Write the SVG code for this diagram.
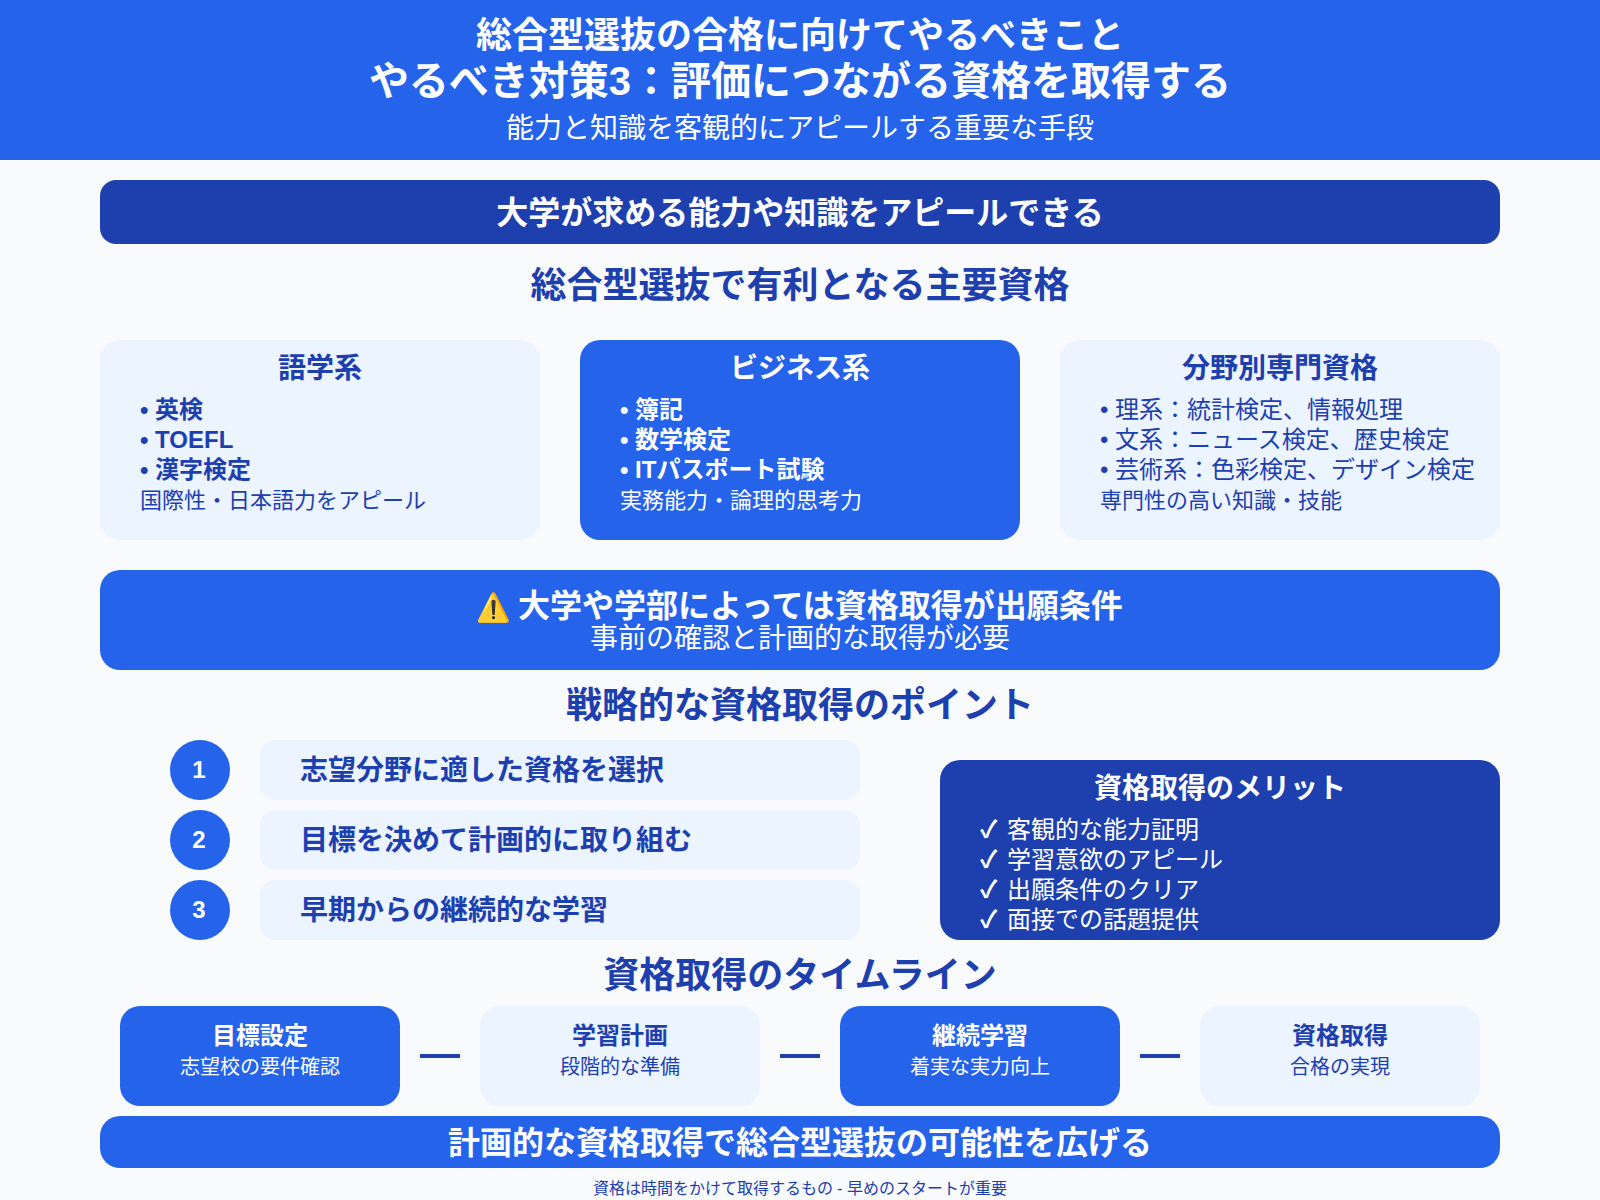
<svg xmlns="http://www.w3.org/2000/svg" width="1600" height="1200" viewBox="0 0 1600 1200">
<style>
text{font-family:"Liberation Sans","Noto Sans CJK JP",sans-serif}
.b{font-weight:700}
.c{text-anchor:middle}
.w{fill:#fff}
.d{fill:#1e40af}
.blue{fill:#2563eb}
.navy{fill:#1e40af}
.pale{fill:#ebf4ff}
.s40{font-size:40px}
.s36{font-size:36px}
.s32{font-size:32px}
.s28{font-size:28px}
.s24{font-size:24px}
.s22{font-size:22px}
.s20{font-size:20px}
</style>
<rect width="1600" height="1200" fill="#f8fafc"/>
<g id="header">
<rect width="1600" height="160" class="blue"/>
<text x="800" y="48" class="b c w s36">総合型選抜の合格に向けてやるべきこと</text>
<text x="800" y="95" class="b c w s40">やるべき対策3：評価につながる資格を取得する</text>
<text x="800" y="138" class="c w s28">能力と知識を客観的にアピールする重要な手段</text>
</g>
<g id="banner">
<rect x="100" y="180" width="1400" height="64" rx="16" class="navy"/>
<text x="800" y="224" class="b c w s32">大学が求める能力や知識をアピールできる</text>
</g>
<text id="heading-qualifications" x="800" y="298" class="b c d s36">総合型選抜で有利となる主要資格</text>
<g id="card-language">
<rect x="100" y="340" width="440" height="200" rx="20" class="pale"/>
<text x="320" y="378" class="b c d s28">語学系</text>
<text x="140" y="418" class="b d s24">• 英検</text>
<text x="140" y="448" class="b d s24">• TOEFL</text>
<text x="140" y="478" class="b d s24">• 漢字検定</text>
<text x="140" y="508" class="d s22">国際性・日本語力をアピール</text>
</g>
<g id="card-business">
<rect x="580" y="340" width="440" height="200" rx="20" class="blue"/>
<text x="800" y="378" class="b c w s28">ビジネス系</text>
<text x="620" y="418" class="b w s24">• 簿記</text>
<text x="620" y="448" class="b w s24">• 数学検定</text>
<text x="620" y="478" class="b w s24">• ITパスポート試験</text>
<text x="620" y="508" class="w s22">実務能力・論理的思考力</text>
</g>
<g id="card-specialist">
<rect x="1060" y="340" width="440" height="200" rx="20" class="pale"/>
<text x="1280" y="378" class="b c d s28">分野別専門資格</text>
<text x="1100" y="418" class="d s24">• 理系：統計検定、情報処理</text>
<text x="1100" y="448" class="d s24">• 文系：ニュース検定、歴史検定</text>
<text x="1100" y="478" class="d s24">• 芸術系：色彩検定、デザイン検定</text>
<text x="1100" y="508" class="d s22">専門性の高い知識・技能</text>
</g>
<g id="warning">
<rect x="100" y="570" width="1400" height="100" rx="20" class="blue"/>
<text x="476" y="617" class="b w s32"><tspan font-size="28">⚠️</tspan><tspan x="518">大学や学部によっては資格取得が出願条件</tspan></text>
<text x="800" y="648" class="c w s28">事前の確認と計画的な取得が必要</text>
</g>
<text id="heading-points" x="800" y="718" class="b c d s36">戦略的な資格取得のポイント</text>
<g id="point-1">
<circle cx="200" cy="770" r="30" class="blue"/>
<text x="199" y="778" class="b c w s24">1</text>
<rect x="260" y="740" width="600" height="60" rx="16" class="pale"/>
<text x="300" y="780" class="b d s28">志望分野に適した資格を選択</text>
</g>
<g id="point-2">
<circle cx="200" cy="840" r="30" class="blue"/>
<text x="199" y="848" class="b c w s24">2</text>
<rect x="260" y="810" width="600" height="60" rx="16" class="pale"/>
<text x="300" y="850" class="b d s28">目標を決めて計画的に取り組む</text>
</g>
<g id="point-3">
<circle cx="200" cy="910" r="30" class="blue"/>
<text x="199" y="918" class="b c w s24">3</text>
<rect x="260" y="880" width="600" height="60" rx="16" class="pale"/>
<text x="300" y="920" class="b d s28">早期からの継続的な学習</text>
</g>
<g id="merits">
<rect x="940" y="760" width="560" height="180" rx="20" class="navy"/>
<text x="1220" y="798" class="b c w s28">資格取得のメリット</text>
<text x="980" y="838" class="w s24"><tspan class="b">✓</tspan><tspan x="1007">客観的な能力証明</tspan></text>
<text x="980" y="868" class="w s24"><tspan class="b">✓</tspan><tspan x="1007">学習意欲のアピール</tspan></text>
<text x="980" y="898" class="w s24"><tspan class="b">✓</tspan><tspan x="1007">出願条件のクリア</tspan></text>
<text x="980" y="928" class="w s24"><tspan class="b">✓</tspan><tspan x="1007">面接での話題提供</tspan></text>
</g>
<text id="heading-timeline" x="800" y="988" class="b c d s36">資格取得のタイムライン</text>
<g id="step-1">
<rect x="120" y="1006" width="280" height="100" rx="20" class="blue"/>
<text x="260" y="1044" class="b c w s24">目標設定</text>
<text x="260" y="1074" class="c w s20">志望校の要件確認</text>
</g>
<g id="step-2">
<rect x="480" y="1006" width="280" height="100" rx="20" class="pale"/>
<text x="620" y="1044" class="b c d s24">学習計画</text>
<text x="620" y="1074" class="c d s20">段階的な準備</text>
</g>
<g id="step-3">
<rect x="840" y="1006" width="280" height="100" rx="20" class="blue"/>
<text x="980" y="1044" class="b c w s24">継続学習</text>
<text x="980" y="1074" class="c w s20">着実な実力向上</text>
</g>
<g id="step-4">
<rect x="1200" y="1006" width="280" height="100" rx="20" class="pale"/>
<text x="1340" y="1044" class="b c d s24">資格取得</text>
<text x="1340" y="1074" class="c d s20">合格の実現</text>
</g>
<g id="connectors" class="navy">
<rect x="420" y="1054" width="40" height="4"/>
<rect x="780" y="1054" width="40" height="4"/>
<rect x="1140" y="1054" width="40" height="4"/>
</g>
<g id="conclusion">
<rect x="100" y="1116" width="1400" height="52" rx="20" class="blue"/>
<text x="800" y="1154" class="b c w s32">計画的な資格取得で総合型選抜の可能性を広げる</text>
</g>
<text id="footer" x="800" y="1194" class="c d" font-size="16">資格は時間をかけて取得するもの - 早めのスタートが重要</text>
</svg>
